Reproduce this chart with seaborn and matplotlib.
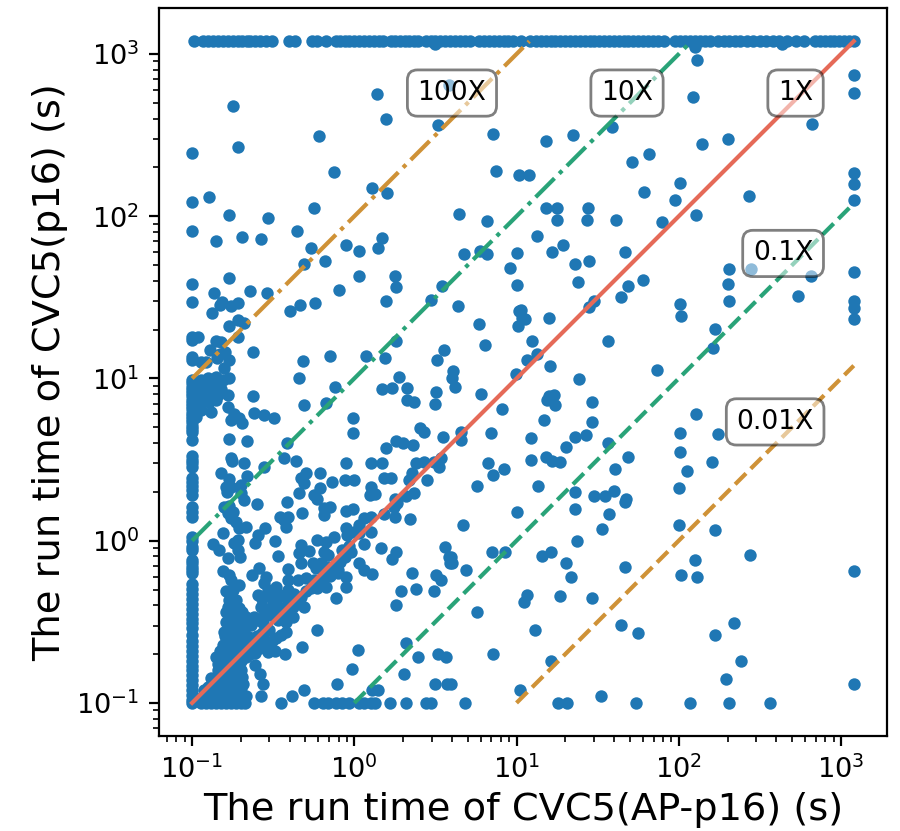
import numpy as np
import pandas as pd
import matplotlib
matplotlib.use("Agg")
import matplotlib.pyplot as plt
import seaborn as sns

# all values are log10(seconds)
TIMEOUT = 3.08
FLOOR = -1.0

top_edge_x = [-0.99, -0.93, -0.90, -0.87, -0.84, -0.81, -0.78, -0.75, -0.72, -0.69, -0.66, -0.64, -0.61, -0.58,
              -0.545, -0.51, -0.40, -0.365, -0.26, -0.23, -0.175, -0.115, -0.09, -0.06, -0.03, 0.0, 0.03, 0.06,
              0.09, 0.12, 0.15, 0.18, 0.225, 0.25, 0.28, 0.31, 0.34, 0.37, 0.39, 0.44, 0.47, 0.50, 0.53, 0.56,
              0.59, 0.62, 0.65, 0.68, 0.715, 0.77, 0.80, 0.83, 0.86, 0.89, 0.92, 0.95, 0.98, 1.025, 1.085, 1.12,
              1.15, 1.18, 1.21, 1.24, 1.27, 1.30, 1.33, 1.36, 1.39, 1.42, 1.45, 1.48, 1.51, 1.54, 1.57, 1.60,
              1.63, 1.66, 1.69, 1.72, 1.75, 1.78, 1.81, 1.84, 1.87, 1.907, 1.98, 2.01, 2.04, 2.07, 2.10, 2.13,
              2.16, 2.195, 2.245, 2.28, 2.31, 2.35, 2.38, 2.42, 2.46, 2.50, 2.54, 2.58, 2.62, 2.665, 2.72, 2.77,
              2.84, 2.87, 2.90, 2.93, 2.96, 2.99, 3.02, 3.05, 3.08]
left_edge_y = [0.99, 0.97, 0.95, 0.93, 0.91, 0.89, 0.87, 0.85, 0.83, 0.81, 0.79, 0.77, 0.75, 0.73, 0.71, 0.69, 0.67,
               0.618, 0.52, 0.50, 0.48, 0.456, 0.384, 0.36, 0.34, 0.31, 0.28, 0.21, 0.18, 0.148, 0.025, 0.0, -0.037,
               -0.06, -0.12, -0.14, -0.16, -0.18, -0.20, -0.27, -0.30, -0.33, -0.36, -0.39, -0.42, -0.45, -0.48,
               -0.51, -0.54, -0.58, -0.62, -0.65, -0.68, -0.71, -0.74, -0.77, -0.80, -0.83, -0.86, -0.89, -0.92,
               -0.95, -0.98, -1.0, 2.39, 2.089, 1.908, 1.583, 1.473, 1.257, 1.24, 1.13, 1.113]
bottom_edge_x = [-0.945, -0.914, -0.883, -0.852, -0.822, -0.79, -0.76, -0.729, -0.698, -0.674, -0.452, -0.247,
                 -0.196, -0.165, -0.114, -0.073, -0.032, 0.03, 0.06, 0.102, 0.126, 0.22, 0.32, 0.44, 0.47,
                 0.68, 1.254, 1.312, 1.739, 2.069, 2.309, 2.561]
right_edge_y = [2.873, 2.76, 2.265, 2.2, 2.103, 1.655, 1.477, 1.432, 1.364, -0.186, -0.885]

points_upper = [(0.14, 2.756), (0.584, 2.807), (-0.75, 2.68), (0.194, 2.598), (0.516, 2.56), (0.856, 2.51),
                (-0.22, 2.493), (-0.72, 2.427), (-0.124, 2.274), (0.873, 2.282), (1.018, 2.257), (1.08, 2.257),
                (0.108, 2.175), (0.204, 2.142), (-0.895, 2.12), (-0.247, 2.054), (-0.77, 2.007), (-0.53, 1.99),
                (0.643, 2.013), (0.82, 1.97), (-0.852, 1.85), (-0.69, 1.87), (-0.575, 1.86), (-0.356, 1.908),
                (0.171, 1.869), (-0.266, 1.805), (-0.054, 1.822), (0.032, 1.787), (0.145, 1.805), (0.674, 1.77),
                (0.774, 1.787), (0.82, 1.77), (1.004, 1.775), (-0.313, 1.703), (-0.18, 1.723), (0.957, 1.682),
                (0.032, 1.633), (0.251, 1.629), (1.004, 1.577), (-0.77, 1.62), (0.26, 1.561), (-0.095, 1.547),
                (0.543, 1.569), (-0.867, 1.528), (-0.64, 1.538), (-0.54, 1.526), (0.194, 1.479), (0.471, 1.485),
                (-0.243, 1.464), (0.637, 1.444), (-0.337, 1.45), (-0.397, 1.415), (-0.817, 1.473), (-0.83, 1.452),
                (-0.875, 1.401), (-0.76, 1.446), (-0.715, 1.466), (1.018, 1.417), (1.05, 1.366), (1.01, 1.323),
                (0.768, 1.337), (-0.72, 1.36), (-0.68, 1.343), (-0.77, 1.325), (-0.72, 1.253), (0.257, 1.234),
                (0.803, 1.206), (-0.965, 1.253), (-0.852, 1.23), (-0.82, 1.226), (-0.887, 1.175), (-0.80, 1.165),
                (-0.83, 1.154), (-0.623, 1.163), (0.553, 1.177), (-0.149, 1.138), (0.073, 1.138), (0.192, 1.124),
                (0.508, 1.113), (-0.319, 1.105), (-0.945, 1.103), (-0.914, 1.103), (-0.77, 1.117), (-0.846, 1.124),
                (-0.805, 1.062), (0.608, 1.048), (0.604, 1.0), (0.62, 0.949), (0.998, 1.025), (-0.344, 1.0),
                (0.276, 1.011), (-0.118, 0.945), (0.173, 0.933), (0.235, 0.941), (0.327, 0.943), (0.506, 0.914),
                (0.778, 0.902), (-0.627, 0.892), (0.5, 3.06), (-0.945, 0.99), (-0.904, 1.0), (-0.852, 1.011),
                (-0.811, 0.99), (-0.77, 1.0), (-0.945, 0.938), (-0.904, 0.949), (-0.862, 0.96), (-0.822, 0.938),
                (-0.78, 0.9), (-0.94, 0.89), (-0.88, 0.89), (-0.84, 0.9)]

points_upper_right = [(2.1, 3.043), (2.635, 3.06), (2.112, 2.966), (2.085, 2.733), (2.824, 2.571), (1.589, 2.551),
                      (1.183, 2.464), (1.347, 2.501), (2.145, 2.444), (2.301, 2.475), (1.817, 2.386), (1.714, 2.337),
                      (2.008, 2.208), (2.432, 2.126), (1.784, 2.152), (1.975, 2.099), (1.179, 2.048), (1.251, 2.054),
                      (1.247, 1.98), (1.439, 2.054), (1.433, 1.98), (1.612, 1.976), (1.899, 1.966), (2.106, 2.005),
                      (1.128, 1.879), (1.288, 1.822), (1.22, 1.781), (1.671, 1.779), (1.359, 1.703), (1.445, 1.727),
                      (1.378, 1.596), (1.685, 1.571), (1.78, 1.608), (1.642, 1.503), (2.307, 1.674), (2.305, 1.584),
                      (2.313, 1.477), (2.447, 1.674), (2.816, 1.631), (2.738, 1.508), (2.008, 1.46), (2.012, 1.384),
                      (1.476, 1.477), (1.445, 1.438), (1.025, 1.421), (1.035, 1.37), (1.199, 1.37), (2.221, 1.304),
                      (1.562, 1.234), (1.093, 1.23), (2.211, 1.191), (1.128, 1.154), (1.066, 1.117), (1.205, 1.076),
                      (1.866, 1.052), (1.386, 0.994), (1.199, 0.892), (1.23, 0.898)]

points_dense = [(-0.883, 0.795), (-0.78, 0.825), (-0.313, 0.836), (-0.175, 0.846), (0.327, 0.867), (0.37, 0.857),
                (0.5, 0.842), (-0.74, 0.784), (-0.76, 0.743), (-0.71, 0.754), (-0.69, 0.723), (-0.616, 0.788),
                (-0.555, 0.774), (-0.493, 0.754), (-0.005, 0.754), (-0.005, 0.667), (-0.77, 0.626), (-0.664, 0.614),
                (-0.417, 0.604), (0.405, 0.692), (0.43, 0.671), (0.549, 0.641), (0.255, 0.614), (0.3, 0.6),
                (0.364, 0.593), (0.196, 0.569), (-0.76, 0.507), (-0.754, 0.49), (-0.682, 0.48), (-0.432, 0.507),
                (-0.36, 0.49), (-0.052, 0.48), (0.106, 0.48), (0.173, 0.476), (0.378, 0.48), (0.43, 0.487),
                (0.49, 0.487), (0.532, 0.507), (0.522, 0.456), (-0.559, 0.456), (-0.822, 0.419), (-0.664, 0.398),
                (-0.77, 0.378), (-0.79, 0.333), (-0.7, 0.343), (-0.76, 0.333), (-0.785, 0.302), (-0.3, 0.419),
                (-0.33, 0.384), (-0.313, 0.357), (-0.21, 0.415), (-0.14, 0.363), (-0.058, 0.374), (0.0, 0.374),
                (0.184, 0.388), (0.225, 0.388), (0.358, 0.415), (0.338, 0.374), (0.45, 0.374), (0.106, 0.328),
                (0.126, 0.285), (0.097, 0.281), (-0.21, 0.322), (-0.25, 0.281), (-0.23, 0.257), (-0.342, 0.296),
                (0.368, 0.292), (0.317, 0.275), (0.249, 0.26), (-0.678, 0.25), (-0.7, 0.291), (-0.415, 0.24),
                (-0.598, 0.226), (-0.77, 0.214), (-0.805, 0.205), (-0.776, 0.168), (-0.75, 0.179), (-0.76, 0.137),
                (-0.73, 0.117), (-0.186, 0.2), (-0.149, 0.205), (-0.186, 0.158), (-0.32, 0.172), (-0.052, 0.185),
                (-0.011, 0.195), (-0.456, 0.148), (-0.41, 0.148), (-0.436, 0.127), (-0.42, 0.086), (0.245, 0.21),
                (0.265, 0.23), (0.249, 0.148), (0.184, 0.164), (0.344, 0.131), (0.06, 0.137), (0.102, 0.144),
                (0.03, 0.097), (0.102, 0.055), (-0.052, 0.076), (-0.042, 0.035), (0.0, 0.055), (0.03, 0.045),
                (-0.71, 0.076), (-0.668, 0.086), (-0.55, 0.076), (-0.596, 0.035), (-0.612, -0.016), (-0.81, 0.045),
                (-0.873, -0.021), (-0.832, -0.057), (-0.715, 0.004), (-0.74, -0.016), (-0.715, -0.057),
                (-0.703, -0.099), (-0.78, -0.109), (-0.487, -0.002), (-0.473, -0.092), (-0.227, 0.004),
                (-0.175, -0.006), (-0.124, 0.025), (-0.33, -0.027), (-0.34, -0.074), (-0.278, -0.062), (-0.33, -0.14),
                (-0.186, -0.068), (-0.165, -0.088), (-0.073, -0.057), (-0.022, -0.068), (0.06, -0.023), (0.167, -0.047),
                (0.255, -0.068), (0.235, -0.113), (0.557, -0.037), (0.584, -0.099), (0.59, -0.14), (0.03, -0.136),
                (0.06, -0.181), (0.112, -0.205), (-0.257, -0.14), (-0.206, -0.14), (-0.237, -0.17), (-0.165, -0.16),
                (-0.103, -0.18), (-0.134, -0.2), (-0.196, -0.222), (-0.175, -0.19), (-0.052, -0.226), (-0.103, -0.2),
                (-0.411, -0.177), (-0.811, -0.187), (-0.77, -0.211), (-0.586, -0.17), (-0.633, -0.211), (0.354, -0.201),
                (0.502, -0.211), (0.536, -0.242), (-0.411, -0.242), (-0.35, -0.242), (-0.298, -0.232), (-0.247, -0.242),
                (-0.052, -0.283), (-0.227, -0.294), (-0.175, -0.283), (-0.545, -0.222), (-0.555, -0.263), (-0.534, -0.304),
                (-0.483, -0.283), (-0.411, -0.304), (-0.596, -0.335), (-0.504, -0.365), (-0.76, -0.242), (-0.709, -0.273),
                (-0.79, -0.308), (-0.75, -0.304), (-0.77, -0.365), (-0.73, -0.365), (-0.709, -0.417), (-0.79, -0.437),
                (-0.76, -0.468), (-0.709, -0.478), (0.29, -0.308), (0.378, -0.3), (0.491, -0.308), (-0.11, -0.355),
                (0.255, -0.396), (-0.411, -0.365), (-0.35, -0.365), (-0.309, -0.407), (-0.38, -0.407), (-0.575, -0.407),
                (-0.452, -0.417), (-0.534, -0.448), (-0.616, -0.468), (-0.668, -0.468), (-0.38, -0.468), (-0.42, -0.499),
                (-0.473, -0.489), (-0.565, -0.509), (-0.637, -0.519), (-0.688, -0.54), (-0.421, -0.561), (-0.524, -0.55),
                (-0.233, -0.55), (-0.801, -0.561), (-0.76, -0.561), (-0.719, -0.571), (-0.79, -0.643), (-0.75, -0.612),
                (-0.709, -0.622), (-0.555, -0.612), (-0.534, -0.684), (-0.489, -0.678), (-0.426, -0.698), (-0.596, -0.653),
                (-0.641, -0.632), (-0.323, -0.653), (0.024, -0.673), (0.317, -0.632), (0.393, -0.715), (0.516, -0.698),
                (0.563, -0.719), (-0.852, -0.719), (-0.811, -0.725), (-0.76, -0.715), (-0.719, -0.694), (-0.74, -0.756),
                (-0.612, -0.766), (-0.58, -0.821), (-0.565, -0.885), (-0.573, -0.957), (-0.017, -0.793), (0.307, -0.821),
                (-0.108, -0.885), (0.495, -0.883), (0.573, -0.883), (-0.309, -0.92), (0.112, -0.92), (0.147, -0.92),
                (-0.385, -0.955), (-0.883, -0.848), (-0.842, -0.797), (-0.79, -0.776), (-0.74, -0.817), (-0.811, -0.858),
                (-0.76, -0.868), (-0.688, -0.883), (-0.668, -0.957), (-0.709, -0.94), (-0.924, -0.92), (-0.862, -0.92),
                (-0.801, -0.92), (-0.75, -0.93), (-0.842, -0.879), (-0.945, 0.846), (-0.893, 0.857), (-0.852, 0.867),
                (-0.945, 0.805), (-0.975, 0.764)]

# the nearly solid patch by the origin and the band along the 1X line
points_origin_patch = [(-0.80, -0.59), (-0.77, -0.60), (-0.74, -0.59), (-0.71, -0.60), (-0.68, -0.60), (-0.66, -0.59),
                       (-0.81, -0.64), (-0.78, -0.66), (-0.75, -0.65), (-0.72, -0.67), (-0.69, -0.65), (-0.66, -0.66),
                       (-0.63, -0.60), (-0.60, -0.59), (-0.57, -0.57), (-0.83, -0.68), (-0.80, -0.70), (-0.77, -0.69),
                       (-0.73, -0.72), (-0.70, -0.74), (-0.67, -0.72), (-0.64, -0.70), (-0.61, -0.69), (-0.58, -0.66),
                       (-0.55, -0.64), (-0.51, -0.62), (-0.48, -0.60), (-0.45, -0.58), (-0.84, -0.76), (-0.81, -0.78),
                       (-0.77, -0.75), (-0.72, -0.78), (-0.70, -0.80), (-0.84, -0.83), (-0.81, -0.82), (-0.78, -0.84),
                       (-0.75, -0.80), (-0.72, -0.85), (-0.69, -0.84), (-0.90, -0.90), (-0.87, -0.88), (-0.83, -0.90),
                       (-0.79, -0.89), (-0.77, -0.91), (-0.73, -0.90), (-0.70, -0.91), (-0.93, -0.96), (-0.90, -0.95),
                       (-0.87, -0.96), (-0.84, -0.95), (-0.81, -0.96), (-0.78, -0.95), (-0.75, -0.97), (-0.72, -0.96),
                       (-0.69, -0.97), (-0.79, -0.50), (-0.76, -0.52), (-0.73, -0.50), (-0.70, -0.52), (-0.67, -0.51),
                       (-0.78, -0.41), (-0.75, -0.40), (-0.73, -0.44), (-0.69, -0.44), (-0.65, -0.49), (-0.60, -0.49),
                       (-0.56, -0.47), (-0.52, -0.46), (-0.49, -0.45), (-0.46, -0.44), (-0.43, -0.44), (-0.55, -0.42),
                       (-0.51, -0.40), (-0.48, -0.38), (-0.44, -0.34), (-0.47, -0.33), (-0.52, -0.33), (-0.57, -0.36),
                       (-0.33, -0.35), (-0.37, -0.33), (-0.30, -0.31), (-0.27, -0.29), (-0.24, -0.27), (-0.20, -0.25),
                       (-0.15, -0.22), (-0.12, -0.17), (-0.09, -0.13), (-0.06, -0.10), (-0.03, -0.03)]

points_lower_right = [(2.106, 0.779), (0.912, 0.81), (1.189, 0.867), (1.236, 0.836), (1.466, 0.857), (1.466, 0.729),
                      (1.17, 0.744), (0.656, 0.672), (0.66, 0.621), (0.844, 0.666), (1.092, 0.631), (1.359, 0.641),
                      (1.429, 0.651), (1.306, 0.577), (1.562, 0.6), (2.007, 0.662), (2.007, 0.547), (2.241, 0.656),
                      (2.204, 0.483), (1.088, 0.497), (1.183, 0.514), (1.22, 0.491), (1.267, 0.487), (0.826, 0.481),
                      (1.689, 0.516), (0.922, 0.442), (0.857, 0.403), (1.607, 0.442), (2.048, 0.432), (0.756, 0.335),
                      (1.131, 0.335), (2.003, 0.323), (1.363, 0.302), (1.478, 0.276), (1.544, 0.278), (1.599, 0.304),
                      (1.671, 0.241), (1.677, 0.257), (1.363, 0.198), (1.0, 0.177), (1.572, 0.165), (0.672, 0.095),
                      (2.003, 0.095), (2.225, 0.066), (1.525, 0.07), (1.371, -0.004), (0.846, -0.071), (0.932, -0.071),
                      (1.158, -0.094), (1.213, -0.069), (1.308, -0.135), (0.594, -0.098), (0.6, -0.139), (2.442, -0.09),
                      (1.671, -0.16), (0.69, -0.18), (2.098, -0.119), (2.016, -0.213), (2.11, -0.221), (1.335, -0.221),
                      (1.066, -0.334), (1.045, -0.375), (1.271, -0.344), (1.466, -0.355), (0.758, -0.441), (1.115, -0.55),
                      (1.642, -0.521), (1.747, -0.566), (2.342, -0.505), (2.221, -0.583), (0.855, -0.698), (1.211, -0.743),
                      (2.385, -0.743), (2.29, -0.852), (0.594, -0.885), (1.021, -0.92), (1.523, -0.956)]

# reference lines
line_labels = ["100X", "10X", "1X", "0.1X", "0.01X"]
line_starts_x = [0.1, 0.1, 0.1, 1, 10]
line_starts_y = [10, 1, 0.1, 0.1, 0.1]
line_ends_x = [12, 120, 1200, 1200, 1200]
line_ends_y = [1200, 1200, 1200, 120, 12]
line_styles = ["-.", "-.", "-", "--", "--"]
line_colors = ["#cf9237", "#29a378", "#e56a58", "#29a378", "#cf9237"]
label_x = [4.0, 48, 525, 440, 393]
label_y = [575, 575, 575, 59, 5.4]

interior = points_upper + points_upper_right + points_dense + points_origin_patch + points_lower_right
log_x = [p[0] for p in interior] + top_edge_x + [FLOOR] * len(left_edge_y) + bottom_edge_x + [TIMEOUT] * len(right_edge_y)
log_y = [p[1] for p in interior] + [TIMEOUT] * len(top_edge_x) + left_edge_y + [FLOOR] * len(bottom_edge_x) + right_edge_y
df = pd.DataFrame({"ap": 10.0 ** np.array(log_x), "base": 10.0 ** np.array(log_y)})

fig = plt.figure(figsize=(4.5, 4.155), dpi=200)
ax = fig.add_axes([159 / 900, 1 - 736 / 831, 728 / 900, 728 / 831])
sns.scatterplot(data=df, x="ap", y="base", color="#1f77b4", s=20, linewidth=0, ax=ax, zorder=2)
ax.set_xscale("log")
ax.set_yscale("log")

for i, name in enumerate(line_labels):
    ax.plot([line_starts_x[i], line_ends_x[i]], [line_starts_y[i], line_ends_y[i]],
            linestyle=line_styles[i], color=line_colors[i], linewidth=1.5, zorder=3)
    ax.text(label_x[i], label_y[i], name, fontsize=9.6, ha="center", va="center", zorder=4,
            bbox=dict(boxstyle="round,pad=0.38", facecolor="white", edgecolor="black", alpha=0.5))

ax.tick_params(axis="both", labelsize=9.8)
ax.set_xlabel("The run time of CVC5(AP-p16) (s)", fontsize=13.8, labelpad=3)
ax.set_ylabel("The run time of CVC5(p16) (s)", fontsize=13.8, labelpad=3)

fig.savefig("out.png", dpi=200)
